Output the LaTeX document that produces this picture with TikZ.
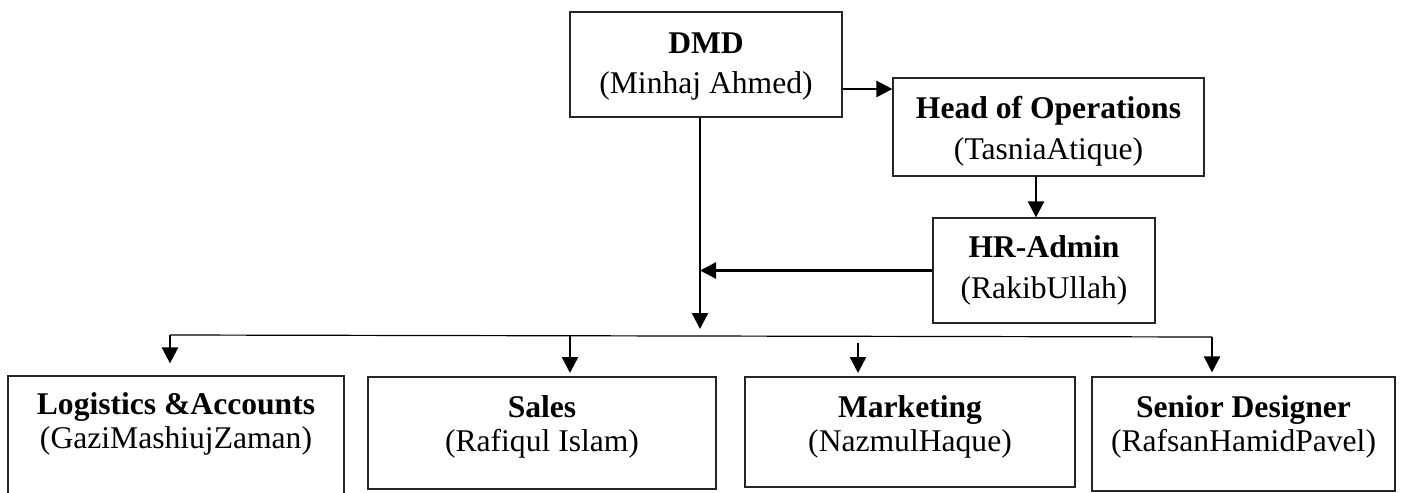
\documentclass[tikz,border=0pt]{standalone}
\usepackage{fontspec}
\setmainfont{Liberation Serif}
\usetikzlibrary{arrows.meta}

\tikzset{
    post/.style={draw=black!85, line width=0.6pt, align=center, inner sep=0pt},
    toprow/.style={post, font=\fontsize{15.8}{20.5}\selectfont},
    lowrow/.style={post, font=\fontsize{15.8}{17}\selectfont},
    arr/.style={line width=1.2pt, -{Triangle[length=8pt, width=8pt]}}
}

\begin{document}
\begin{tikzpicture}[x=0.5pt, y=-0.5pt]
    \useasboundingbox (0,0) rectangle (1401,492);
    % upper part
    \node[toprow, minimum width=136pt, text height=41pt, text depth=11.5pt] (dmd) at (706,64.5) {\textbf{DMD}\\(Minhaj Ahmed)};
    \node[toprow, minimum width=155.5pt, text height=40.5pt, text depth=8.5pt] (hoo) at (1048.5,127) {\textbf{Head of Operations}\\(TasniaAtique)};
    \node[toprow, minimum width=111pt, text height=40pt, text depth=12.5pt] (hr) at (1044,270.5) {\textbf{HR-Admin}\\(RakibUllah)};
    % lower row
    \node[lowrow, minimum width=168pt, text height=36pt, text depth=36pt] (log) at (176,448) {\textbf{Logistics \&Accounts}\\(GaziMashiujZaman)};
    \node[lowrow, minimum width=174pt, text height=37pt, text depth=19pt] (sales) at (542,433) {\textbf{Sales}\\(Rafiqul Islam)};
    \node[lowrow, minimum width=165pt, text height=37pt, text depth=18pt] (mkt) at (910,432) {\textbf{Marketing}\\(NazmulHaque)};
    \node[lowrow, minimum width=151.5pt, text height=37pt, text depth=20pt] (sen) at (1243.5,434) {\textbf{Senior Designer}\\(RafsanHamidPavel)};

    \coordinate (join) at (700,329);
    \coordinate (busL) at (170,335);
    \coordinate (busR) at (1212,337);

    \draw[arr] ([yshift=-12.25pt]dmd.east) coordinate (d1) -- (d1 -| hoo.west);
    \draw[arr] ([xshift=-4pt]hr.north |- hoo.south) -- ([xshift=-4pt]hr.north);
    \draw[arr] (dmd.south -| join) -- (join);
    \draw[arr] (hr.west) -- (hr.west -| join);

    % bus to the four posts
    \draw[line width=0.6pt] (busL) -- (busR);
    \draw[arr, shorten >=6pt] (busL) -- (busL |- log.north);
    \draw[arr, shorten >=2pt] (570,335.5) -- (570,377);
    \draw[arr, shorten >=2pt] (858,343) -- (858,377);
    \draw[arr, shorten >=2pt] (busR) -- (busR |- sen.north);
\end{tikzpicture}
\end{document}
